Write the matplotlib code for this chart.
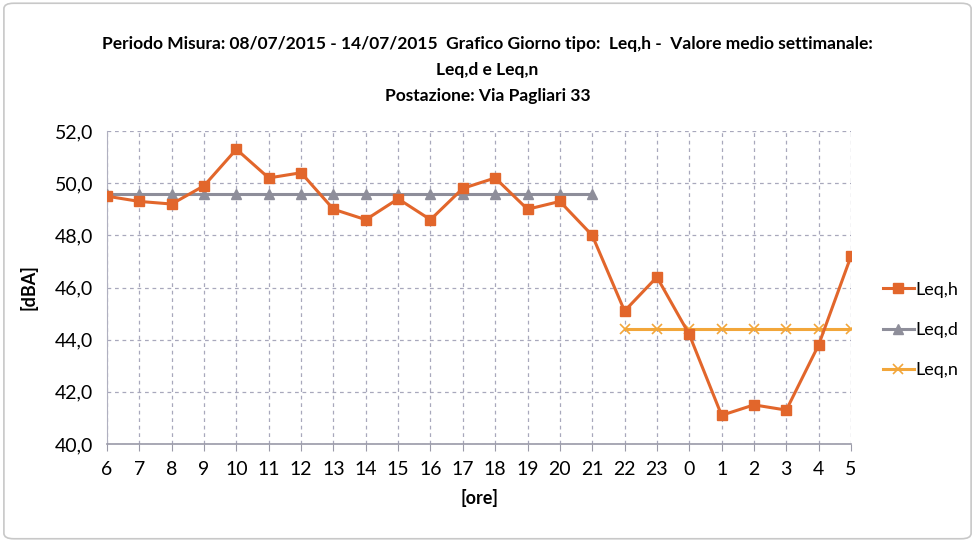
import matplotlib
matplotlib.use("Agg")
import matplotlib.pyplot as plt
from matplotlib.patches import FancyBboxPatch
from matplotlib.ticker import FuncFormatter, MultipleLocator

hours = ["6", "7", "8", "9", "10", "11", "12", "13", "14", "15", "16", "17", "18",
         "19", "20", "21", "22", "23", "0", "1", "2", "3", "4", "5"]
leq_h = [49.5, 49.3, 49.2, 49.9, 51.3, 50.2, 50.4, 49.0, 48.6, 49.4, 48.6, 49.8,
         50.2, 49.0, 49.3, 48.0, 45.1, 46.4, 44.2, 41.1, 41.5, 41.3, 43.8, 47.2]
leq_d_value = 49.6
leq_n_value = 44.4
day_hours = hours[:16]
night_hours = hours[16:]
leq_d = [leq_d_value] * len(day_hours)
leq_n = [leq_n_value] * len(night_hours)

plt.rcParams['font.family'] = ['Lato', 'DejaVu Sans']

fig = plt.figure(figsize=(9.75, 5.42), dpi=100)
ax = fig.add_axes([107/975, 1-444/542, (851-107)/975, (444-131)/542])

x_all = list(range(len(hours)))
x_day = x_all[:len(day_hours)]
x_night = x_all[len(day_hours):]

c_h = '#E2662B'
c_d = '#8E8E9A'
c_n = '#F2A63A'

ax.plot(x_day, leq_d, color=c_d, lw=2.2, marker='^', ms=7, label='Leq,d', zorder=3)
ax.plot(x_night, leq_n, color=c_n, lw=2.2, marker='x', ms=7, mew=1.2, label='Leq,n', zorder=3)
ax.plot(x_all, leq_h, color=c_h, lw=2.2, marker='s', ms=7, label='Leq,h', zorder=4)

ax.set_xlim(0, len(hours) - 1)
ax.set_ylim(40, 52)
ax.set_xticks(x_all)
ax.set_xticklabels(hours, fontsize=14)
ax.yaxis.set_major_locator(MultipleLocator(2))
ax.yaxis.set_major_formatter(FuncFormatter(lambda v, p: f"{v:.1f}".replace('.', ',')))
ax.tick_params(axis='y', labelsize=14, length=0, pad=10)
ax.tick_params(axis='x', length=5, color='#9a9aa8', pad=7)

ax.grid(True, linestyle=(0, (3, 3)), color='#a8a8bc', lw=0.9)
for s in ['top', 'right']:
    ax.spines[s].set_visible(False)
ax.spines['left'].set_color('#b0b0c0')
ax.spines['bottom'].set_color('#9a9aa8')
ax.spines['bottom'].set_linewidth(1.2)

ax.set_ylabel('[dBA]', fontsize=13, fontweight='bold', labelpad=12)
ax.set_xlabel('[ore]', fontsize=13, fontweight='bold', labelpad=8)

title = ("Periodo Misura: 08/07/2015 - 14/07/2015  Grafico Giorno tipo:  Leq,h -  Valore medio settimanale:\n"
         "Leq,d e Leq,n\nPostazione: Via Pagliari 33")
fig.text(0.5, 1-70/542, title, ha='center', va='center', fontsize=12.5,
         fontweight='bold', linespacing=1.75)

handles, labels = ax.get_legend_handles_labels()
order = [2, 0, 1]
leg = fig.legend([handles[i] for i in order], [labels[i] for i in order],
                 loc='center left', bbox_to_anchor=(883/975, 1-330/542),
                 frameon=False, fontsize=13, handlelength=1.7, handletextpad=0.1,
                 labelspacing=1.35, borderaxespad=0, borderpad=0)

frame = FancyBboxPatch((0.004, 0.006), 0.992, 0.988, boxstyle="round,pad=0,rounding_size=0.01",
                       transform=fig.transFigure, fill=False, edgecolor='#c8c8c8', lw=1.2)
fig.add_artist(frame)

fig.savefig('out.png', dpi=100)
